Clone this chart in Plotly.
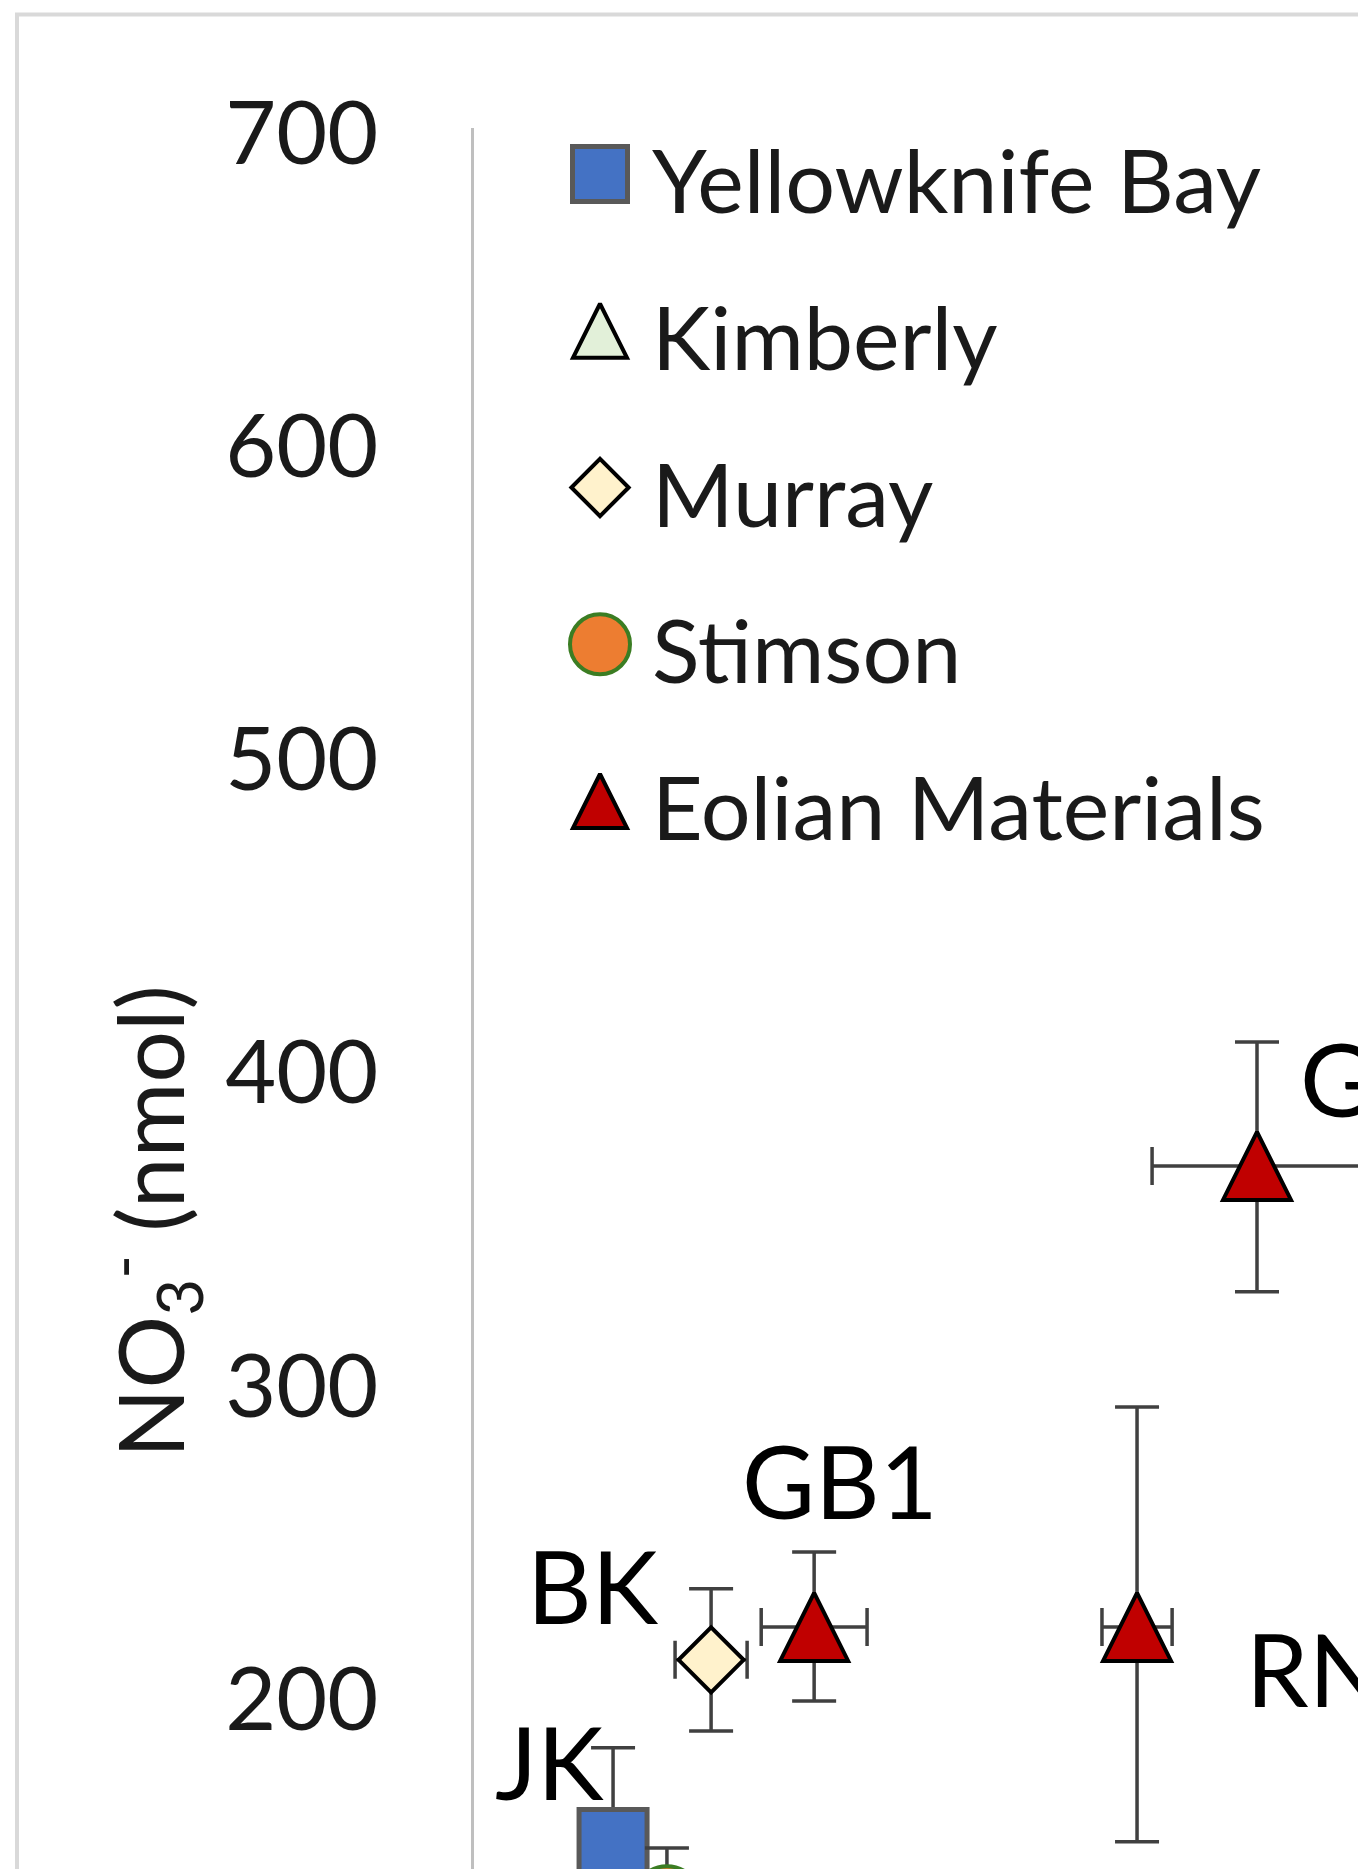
import plotly.graph_objects as go

# ---------------- data ----------------
series_names = ["Yellowknife Bay", "Kimberly", "Murray", "Stimson", "Eolian Materials"]

ykb_labels = ["JK"]
ykb_x = [44.4]
ykb_y = [152.3]
ykb_yerr = [30.5]

kim_labels = []
kim_x = []
kim_y = []

mur_labels = ["BK"]
mur_x = [75.7]
mur_y = [210.9]
mur_yerr = [22.7]
mur_xerr = [11.5]

sti_labels = [""]
sti_x = [61.6]
sti_y = [134.5]
sti_yerr = [16.3]

eol_labels = ["GB1", "RN", "GB2"]
eol_x = [108.6, 211.7, 250.0]
eol_y = [221.4, 221.4, 368.6]
eol_yerr_plus = [23.9, 70.2, 39.6]
eol_yerr_minus = [23.6, 68.6, 40.2]
eol_xerr = [16.9, 11.2, 33.5]

y_ticks = [200, 300, 400, 500, 600, 700]
y_title = "NO<sub>3</sub><sup>-</sup> (nmol)"

# ---------------- layout / style ----------------
W, H = 1358, 1869
AXIS_X_PX = 474          # position of the value axis line
TOP_PX = 128             # pixel row of the 700 tick
PX_PER_UNIT = 3.132
Y_TOP = 700
Y_BOTTOM = Y_TOP - (H - TOP_PX) / PX_PER_UNIT
X_MAX = (W - AXIS_X_PX) / PX_PER_UNIT

FONT = "Lato"
TXT = "#1a1a1a"
ERR_COLOR = "#404040"

styles = {
    "Yellowknife Bay": dict(symbol="square", color="#4472C4", line=dict(color="#595959", width=5), size=68),
    "Kimberly": dict(symbol="arrow-down", angle=180, standoff=34, color="#E2F0D9",
                     line=dict(color="#000000", width=4), size=68),
    "Murray": dict(symbol="diamond", color="#FFF2CC", line=dict(color="#000000", width=4), size=50),
    "Stimson": dict(symbol="circle", color="#ED7D31", line=dict(color="#3B7D23", width=4), size=66),
    "Eolian Materials": dict(symbol="arrow-down", angle=180, standoff=34, color="#C00000",
                             line=dict(color="#000000", width=4), size=68),
}
legend_sizes = {"Yellowknife Bay": 55, "Kimberly": 54, "Murray": 44, "Stimson": 60, "Eolian Materials": 54}

label_offsets = {  # (xshift px, yshift px, xanchor)
    "JK": (-64, 82, "center"),
    "BK": (-118, 75, "center"),
    "GB1": (26, 147, "center"),
    "RN": (107, -41, "left"),
    "GB2": (41, 88, "left"),
}


def err(arr_plus, arr_minus=None, width=22, visible=True):
    if not visible:
        return dict(visible=False)
    d = dict(type="data", array=arr_plus, color=ERR_COLOR, thickness=3.5, width=width, visible=True)
    if arr_minus is not None:
        d.update(symmetric=False, arrayminus=arr_minus)
    else:
        d.update(symmetric=True)
    return d


fig = go.Figure()

series_data = [
    ("Yellowknife Bay", ykb_x, ykb_y, err(ykb_yerr), err(None, visible=False)),
    ("Kimberly", kim_x, kim_y, err(None, visible=False), err(None, visible=False)),
    ("Murray", mur_x, mur_y, err(mur_yerr), err(mur_xerr, width=19)),
    ("Stimson", sti_x, sti_y, err(sti_yerr), err(None, visible=False)),
    ("Eolian Materials", eol_x, eol_y, err(eol_yerr_plus, eol_yerr_minus), err(eol_xerr, width=19)),
]

for name, xs, ys, ey, ex in series_data:
    fig.add_trace(go.Scatter(
        x=xs, y=ys, mode="markers", name=name, showlegend=False,
        marker=styles[name], error_y=ey, error_x=ex,
        xaxis="x", yaxis="y", hoverinfo="skip",
    ))

# point labels
for labels, xs, ys in [(ykb_labels, ykb_x, ykb_y), (mur_labels, mur_x, mur_y), (eol_labels, eol_x, eol_y)]:
    for lab, xv, yv in zip(labels, xs, ys):
        dx, dy, anc = label_offsets[lab]
        fig.add_annotation(x=xv, y=yv, xref="x", yref="y", text=lab, showarrow=False,
                           xshift=dx, yshift=dy, xanchor=anc, yanchor="middle",
                           font=dict(family=FONT, size=100, color="#000000"))

# ---------------- custom legend (large symbols) on an overlay pixel axis ----------------
LEG_X = 600
LEG_Y0 = 174
LEG_DY = 156.75
for i, name in enumerate(series_names):
    st = dict(styles[name])
    st["size"] = legend_sizes[name]
    if "standoff" in st:
        st["standoff"] = st["size"] / 2
    ly = LEG_Y0 + i * LEG_DY
    fig.add_trace(go.Scatter(x=[LEG_X], y=[ly], mode="markers", marker=st, showlegend=False,
                             xaxis="x2", yaxis="y2", hoverinfo="skip", cliponaxis=False))
    fig.add_annotation(x=LEG_X + 50, y=ly + 5, xref="x2", yref="y2", text=name, showarrow=False,
                       xanchor="left", yanchor="middle", font=dict(family=FONT, size=88, color=TXT))

# y axis title
fig.add_annotation(x=150 / W, y=1 - 1222 / H, xref="paper", yref="paper", text=y_title,
                   textangle=-90, showarrow=False, xanchor="center", yanchor="middle",
                   font=dict(family=FONT, size=91, color=TXT))

# chart border
fig.add_shape(type="rect", xref="paper", yref="paper",
              x0=17 / W, x1=1.1, y0=-0.1, y1=1 - 14.5 / H,
              line=dict(color="#d9d9d9", width=4), fillcolor="rgba(0,0,0,0)", layer="below")

fig.update_layout(
    width=W, height=H,
    margin=dict(l=0, r=0, t=0, b=0, autoexpand=False),
    paper_bgcolor="white", plot_bgcolor="rgba(0,0,0,0)",
    font=dict(family=FONT, color=TXT),
    xaxis=dict(domain=[AXIS_X_PX / W, 1], range=[0, X_MAX], showline=False, showticklabels=False,
               showgrid=False, zeroline=False, ticks="", automargin=False),
    yaxis=dict(domain=[0, 1 - TOP_PX / H], range=[Y_BOTTOM, Y_TOP], showline=True,
               linecolor="#bfbfbf", linewidth=3, showgrid=False, zeroline=False, ticks="",
               tickmode="array", tickvals=y_ticks, ticktext=[str(v) for v in y_ticks],
               tickfont=dict(family=FONT, size=88, color=TXT), ticklabelstandoff=75,
               ticklabelshift=5, automargin=False),
    xaxis2=dict(domain=[0, 1], range=[0, W], visible=False, anchor="y2", automargin=False),
    yaxis2=dict(domain=[0, 1], range=[H, 0], visible=False, anchor="x2", automargin=False),
    showlegend=False,
)

fig.write_html("out.html", config={"displayModeBar": False},
               post_script="document.body.style.margin='0';document.body.style.overflow='hidden';")
